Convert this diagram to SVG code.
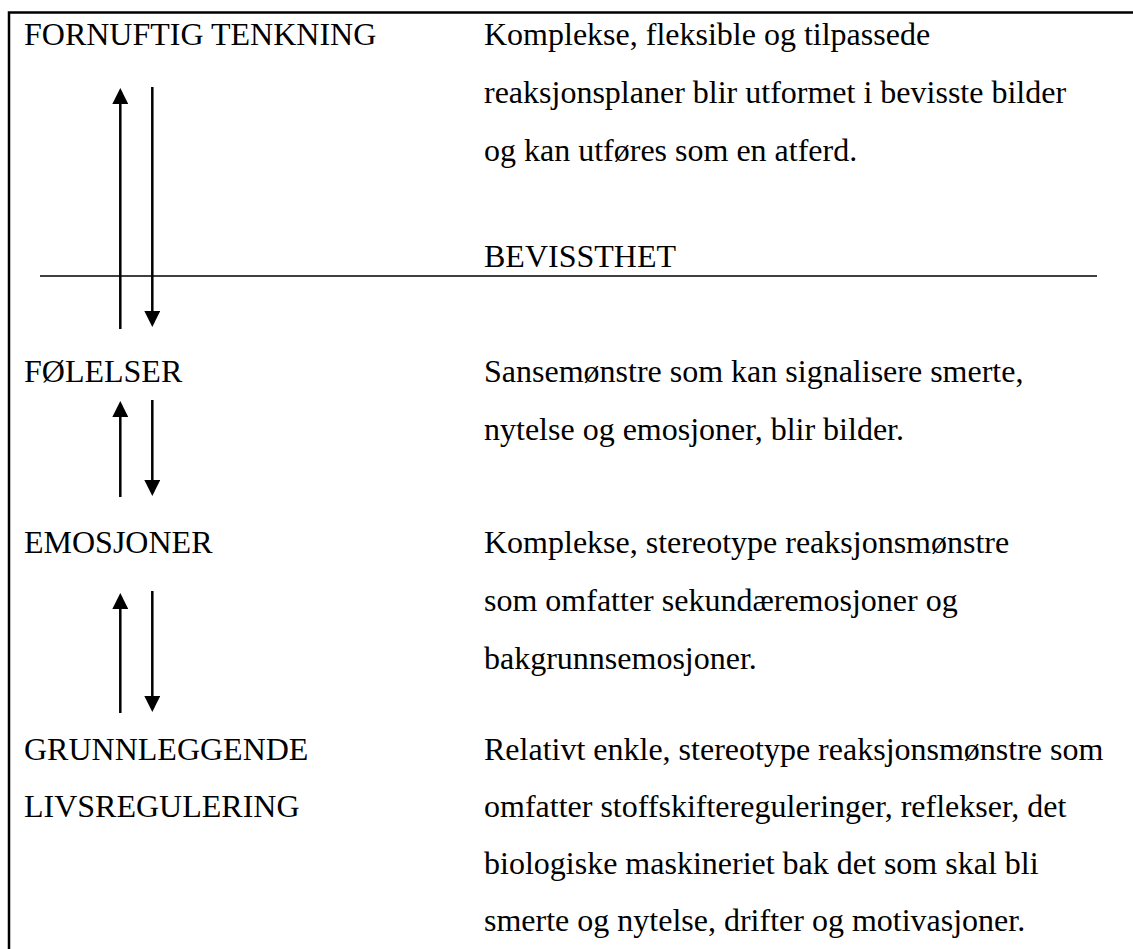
<svg xmlns="http://www.w3.org/2000/svg" width="1133" height="949" viewBox="0 0 1133 949">
  <style>
    .lbl { font-family: 'Liberation Serif', 'Times New Roman', Times, 'DejaVu Serif', serif; font-size: 32px; fill: #000; }
    .frame { stroke: #000; stroke-width: 2.5; fill: none; }
    .rule { stroke: #000; stroke-width: 1.6; fill: none; }
    .flow { stroke: #000; stroke-width: 2.5; fill: none; marker-end: url(#head); }
  </style>
  <defs>
    <marker id="head" markerUnits="userSpaceOnUse" markerWidth="16" markerHeight="16" refX="8" refY="8" orient="auto" viewBox="0 0 16 16">
      <path d="M0,0 L16,8 L0,16 Z" fill="#000"/>
    </marker>
  </defs>

  <rect width="1133" height="949" fill="#fff"/>

  <!-- outer frame: top and left edges only -->
  <path class="frame" d="M9,949 V12.5 H1133"/>

  <!-- consciousness divider -->
  <line class="rule" x1="40" y1="276" x2="1097" y2="276"/>

  <g id="connectors">
    <line class="flow" x1="120.3" y1="329" x2="120.3" y2="96"/>
    <line class="flow" x1="152.3" y1="87" x2="152.3" y2="319"/>
    <line class="flow" x1="120.3" y1="497" x2="120.3" y2="409"/>
    <line class="flow" x1="152.3" y1="400" x2="152.3" y2="488"/>
    <line class="flow" x1="120.3" y1="713" x2="120.3" y2="601"/>
    <line class="flow" x1="152.3" y1="591" x2="152.3" y2="704"/>
  </g>

  <g class="lbl" font-family="Liberation Serif, serif" font-size="32">
    <g id="fornuftig-tenkning">
      <text x="24" y="45">FORNUFTIG TENKNING</text>
      <text x="484" y="45">Komplekse, fleksible og tilpassede</text>
      <text x="484" y="103">reaksjonsplaner blir utformet i bevisste bilder</text>
      <text x="484" y="161">og kan utføres som en atferd.</text>
    </g>

    <g id="bevissthet">
      <text x="484" y="267">BEVISSTHET</text>
    </g>

    <g id="folelser">
      <text x="24" y="382">FØLELSER</text>
      <text x="484" y="382">Sansemønstre som kan signalisere smerte,</text>
      <text x="484" y="440">nytelse og emosjoner, blir bilder.</text>
    </g>

    <g id="emosjoner">
      <text x="24" y="553">EMOSJONER</text>
      <text x="484" y="553">Komplekse, stereotype reaksjonsmønstre</text>
      <text x="484" y="611">som omfatter sekundæremosjoner og</text>
      <text x="484" y="669">bakgrunnsemosjoner.</text>
    </g>

    <g id="grunnleggende-livsregulering">
      <text x="24" y="760">GRUNNLEGGENDE</text>
      <text x="24" y="817">LIVSREGULERING</text>
      <text x="484" y="760">Relativt enkle, stereotype reaksjonsmønstre som</text>
      <text x="484" y="817">omfatter stoffskiftereguleringer, reflekser, det</text>
      <text x="484" y="874">biologiske maskineriet bak det som skal bli</text>
      <text x="484" y="931">smerte og nytelse, drifter og motivasjoner.</text>
    </g>
  </g>
</svg>
